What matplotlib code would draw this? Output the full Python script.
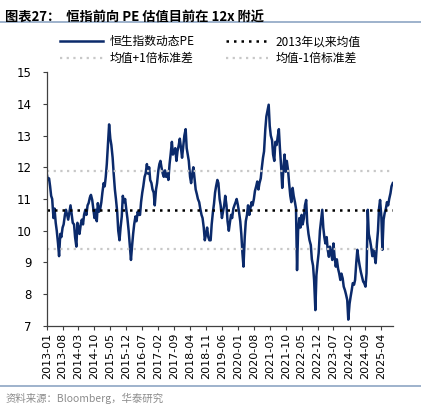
import numpy as np
import pandas as pd
import matplotlib
matplotlib.use('Agg')
import matplotlib.pyplot as plt
from matplotlib.lines import Line2D

plt.rcParams['font.family'] = ['Noto Sans CJK SC', 'DejaVu Sans']
plt.rcParams['axes.unicode_minus'] = False

# forward PE of Hang Seng Index, two points per month (1st / 15th)
pe_2013 = [11.8, 11.6, 11.65, 11.4, 11.1, 11.0, 10.4, 10.7, 10.25, 10.0, 9.6, 9.2,
           9.9, 9.8, 10.1, 10.2, 10.5, 10.66, 10.5, 10.35, 10.6, 10.8, 10.5, 10.25]
pe_2014 = [10.2, 9.8, 9.5, 10.25, 10.1, 9.9, 10.2, 10.35, 10.2, 10.5, 10.66, 10.5,
           10.8, 10.87, 11.05, 11.13, 10.97, 10.7, 10.4, 10.66, 10.3, 10.87, 10.6, 10.66]
pe_2015 = [10.9, 11.2, 11.5, 11.4, 11.7, 12.1, 12.8, 13.35, 12.9, 12.7, 12.3, 11.8,
           11.3, 11.0, 10.6, 10.0, 9.7, 10.1, 10.45, 11.1, 10.9, 11.0, 10.66, 10.4]
pe_2016 = [10.0, 9.6, 9.08, 9.5, 9.9, 10.2, 10.45, 10.3, 10.6, 10.5, 10.5, 10.9,
           11.2, 11.4, 11.7, 11.8, 12.1, 11.8, 12.0, 11.6, 11.5, 11.3, 11.2, 10.8]
pe_2017 = [11.3, 11.5, 11.9, 12.1, 12.2, 12.0, 11.8, 11.7, 11.9, 11.7, 11.8, 11.6,
           12.1, 12.4, 12.8, 12.4, 12.5, 12.6, 12.2, 12.5, 12.7, 12.9, 12.6, 12.3]
pe_2018 = [12.7, 13.0, 13.2, 12.6, 12.4, 12.2, 11.7, 11.5, 11.8, 12.0, 11.6, 11.3,
           11.15, 11.0, 10.9, 10.7, 10.5, 10.4, 10.1, 9.7, 9.9, 10.1, 9.8, 9.7]
pe_2019 = [9.7, 10.2, 10.6, 10.85, 11.2, 11.4, 11.6, 11.5, 11.0, 10.8, 10.4, 10.6,
           10.8, 11.1, 10.8, 10.3, 10.0, 10.25, 10.5, 10.4, 10.7, 10.8, 10.9, 11.0]
pe_2020 = [10.8, 10.6, 10.3, 9.9, 9.3, 8.87, 9.8, 10.3, 10.5, 10.8, 10.5, 10.7,
           10.9, 10.8, 11.0, 11.25, 11.4, 11.55, 11.3, 11.5, 11.65, 11.98, 12.3, 12.5]
pe_2021 = [13.2, 13.6, 13.8, 13.97, 13.3, 13.0, 12.85, 12.4, 12.2, 12.8, 12.7, 12.95,
           13.2, 12.6, 12.0, 11.35, 12.0, 12.4, 11.86, 12.2, 11.9, 11.5, 11.1, 10.9]
pe_2022 = [11.35, 11.1, 10.9, 10.7, 8.76, 10.0, 10.4, 10.1, 10.5, 10.2, 10.4, 10.8,
           10.97, 10.25, 9.9, 9.7, 9.55, 9.1, 8.9, 8.45, 7.5, 8.6, 9.0, 9.3]
pe_2023 = [10.0, 10.3, 10.66, 10.1, 9.8, 9.6, 9.8, 9.4, 9.18, 9.5, 9.3, 9.08,
           9.6, 9.2, 8.87, 9.1, 8.8, 8.66, 8.45, 8.65, 8.5, 8.24, 8.13, 8.0]
pe_2024 = [7.82, 7.2, 7.7, 7.92, 8.13, 8.35, 8.3, 8.45, 9.0, 9.4, 9.1, 8.9,
           8.7, 8.56, 8.4, 8.35, 8.24, 8.66, 10.66, 9.9, 9.7, 9.5, 9.2, 9.4]
pe_2025 = [9.2, 8.98, 9.6, 10.0, 10.7, 10.97, 10.45, 9.4, 10.35, 10.55, 10.7, 10.9,
           10.8, 11.0, 11.18, 11.4, 11.5]

pe = (pe_2013 + pe_2014 + pe_2015 + pe_2016 + pe_2017 + pe_2018 + pe_2019 +
      pe_2020 + pe_2021 + pe_2022 + pe_2023 + pe_2024 + pe_2025)
dates = pd.date_range('2013-01-01', periods=len(pe), freq='SMS')

pe_mean = 10.65
pe_up = 11.88
pe_down = 9.42

navy = '#0B2A6B'
grey_dot = '#C8C8C8'
rule = '#8EA6C4'

fig = plt.figure(figsize=(4.21, 4.08), dpi=100)

# title and rule
fig.text(0.012, 0.973, '图表27：  恒指前向 PE 估值目前在 12x 附近', fontsize=9.5,
         fontweight='bold', va='top', ha='left')
fig.add_artist(Line2D([0.0, 1.0], [0.946, 0.946], color=rule, lw=1.2))

ax = fig.add_axes([0.111, 0.201, 0.822, 0.6225])
ax.plot(dates, pe, color=navy, lw=1.8, label='恒生指数动态PE')
ax.axhline(pe_mean, color='black', lw=1.8, ls=(0, (1, 2)), label='2013年以来均值')
ax.axhline(pe_up, color=grey_dot, lw=1.6, ls=(0, (1, 2)), label='均值+1倍标准差')
ax.axhline(pe_down, color=grey_dot, lw=1.6, ls=(0, (1, 2)), label='均值-1倍标准差')

ax.set_ylim(7, 15)
ax.set_yticks(np.arange(7, 16, 1))
ax.set_xlim(dates[0], dates[-1])
ticks = pd.date_range('2013-01-01', '2025-04-01', freq='7MS')
ax.set_xticks(ticks)
ax.set_xticklabels([d.strftime('%Y-%m') for d in ticks], rotation=90, fontsize=8,
                   family='DejaVu Sans')
for lab in ax.get_yticklabels():
    lab.set_fontsize(8.5)
    lab.set_family('DejaVu Sans')

for s in ['top', 'right']:
    ax.spines[s].set_visible(False)
for s in ['left', 'bottom']:
    ax.spines[s].set_color('#404040')
    ax.spines[s].set_linewidth(0.9)
ax.tick_params(axis='both', direction='out', length=3, width=0.8, color='#404040', pad=2)
ax.tick_params(axis='y', pad=8)

h, l = ax.get_legend_handles_labels()
order = [0, 2, 1, 3]
fig.legend([h[i] for i in order], [l[i] for i in order], ncol=2, frameon=False,
           loc='upper left', bbox_to_anchor=(0.118, 0.94), fontsize=8.5,
           handlelength=3.6, columnspacing=2.6, labelspacing=0.3, handletextpad=0.6)

# source line
fig.add_artist(Line2D([0.0, 1.0], [0.055, 0.055], color=rule, lw=1.2))
fig.text(0.012, 0.024, '资料来源：Bloomberg，华泰研究', fontsize=7.5, color='#8C8C8C',
         va='center', ha='left')

fig.savefig('out.png', dpi=100)
